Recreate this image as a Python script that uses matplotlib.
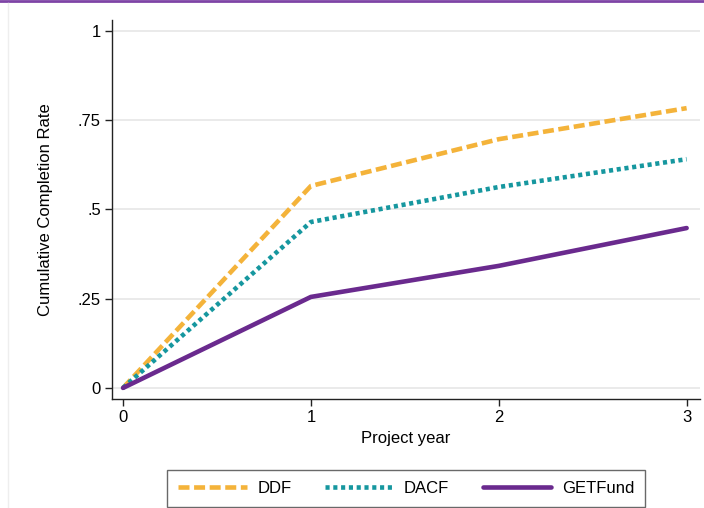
import matplotlib.pyplot as plt
from matplotlib.lines import Line2D
from matplotlib.ticker import FixedLocator

plt.rcParams['font.family'] = ['Liberation Sans', 'DejaVu Sans']

years = [0, 1, 2, 3]
ddf = [0.0, 0.566, 0.697, 0.784]
dacf = [0.0, 0.465, 0.563, 0.641]
getfund = [0.0, 0.255, 0.342, 0.448]

y_ticks = [0, 0.25, 0.5, 0.75, 1]
y_labels = ['0', '.25', '.5', '.75', '1']

fig = plt.figure(figsize=(7.04, 5.08), dpi=100)
ax = fig.add_axes([0.159, 0.2146, 0.835, 0.746])

ax.plot(years, ddf, color='#F4B33A', lw=3.3, linestyle=(0, (2.4, 1.0)),
        solid_capstyle='butt', dash_capstyle='butt', label='DDF')
ax.plot(years, dacf, color='#16979F', lw=3.3, linestyle=(0, (0.9, 0.8)),
        dash_capstyle='butt', label='DACF')
ax.plot(years, getfund, color='#6A2A8E', lw=3.3, solid_capstyle='round',
        label='GETFund')

ax.set_xlim(-0.059, 3.07)
ax.set_ylim(-0.031, 1.031)
ax.yaxis.set_major_locator(FixedLocator(y_ticks))
ax.set_yticklabels(y_labels)
ax.set_xticks(years)
ax.grid(axis='y', color='#e6e6e6', lw=1.2)
ax.set_axisbelow(True)

for s in ['top', 'right']:
    ax.spines[s].set_visible(False)
for s in ['left', 'bottom']:
    ax.spines[s].set_color('#222222')
    ax.spines[s].set_linewidth(1.0)

ax.tick_params(axis='both', length=5, width=1, color='#222222', labelsize=12, pad=3)
ax.set_xlabel('Project year', fontsize=12, labelpad=4)
ax.set_ylabel('Cumulative Completion Rate', fontsize=12, labelpad=18)

leg = fig.legend(loc='lower center', bbox_to_anchor=(0.577, 0.002), ncol=3,
                 fontsize=12, frameon=True, fancybox=False, handlelength=4.1,
                 columnspacing=2.0, borderpad=0.65, handletextpad=0.65,
                 borderaxespad=0, edgecolor='#444444')
leg.get_frame().set_linewidth(1.0)

# screenshot edges
fig.add_artist(Line2D([0, 1], [0.998, 0.998], transform=fig.transFigure,
                      color='#7E44A6', lw=2))
fig.add_artist(Line2D([0.0115, 0.0115], [0, 0.995], transform=fig.transFigure,
                      color='#eeeeee', lw=1))

fig.savefig('out.png', dpi=100)
